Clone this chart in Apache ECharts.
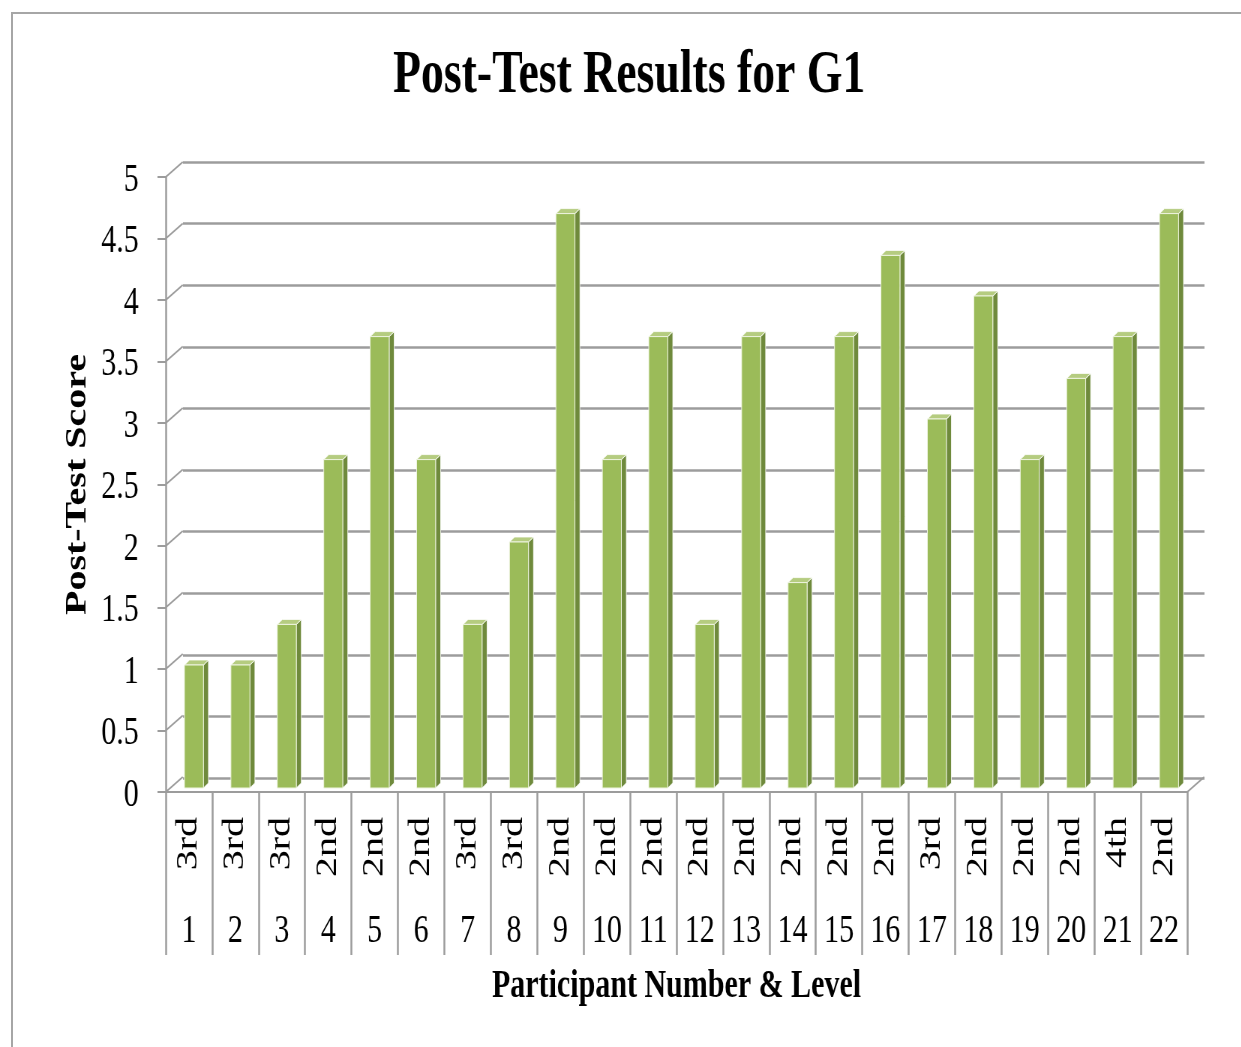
<!DOCTYPE html>
<html><head><meta charset="utf-8">
<script src="https://cdn.jsdelivr.net/npm/echarts@6/dist/echarts.min.js"></script>
<style>
html,body{margin:0;padding:0;background:#fff;overflow:hidden;width:1241px;height:1047px;}
#chart{position:absolute;left:0;top:0;width:1655px;height:1047px;transform:scaleX(0.75);transform-origin:0 0;}
#frame{position:absolute;left:11px;top:12px;width:1240px;height:1045px;border-left:2px solid #a6a6a6;border-top:2px solid #a6a6a6;pointer-events:none;}
</style></head><body>
<div id="chart"></div><div id="frame"></div>
<script>
// ---- data ----
const participants = ['1','2','3','4','5','6','7','8','9','10','11','12','13','14','15','16','17','18','19','20','21','22'];
const levels = ['3rd','3rd','3rd','2nd','2nd','2nd','3rd','3rd','2nd','2nd','2nd','2nd','2nd','2nd','2nd','2nd','3rd','2nd','2nd','2nd','4th','2nd'];
const scores = [1,1,1.33,2.67,3.67,2.67,1.33,2,4.67,2.67,3.67,1.33,3.67,1.67,3.67,4.33,3,4,2.67,3.33,3.67,4.67];
const yTicks = [0,0.5,1,1.5,2,2.5,3,3.5,4,4.5,5];

// ---- style ----
const SX = 0.75;               // horizontal squeeze of the picture
const FONT = 'Liberation Serif';
const GRID = '#9c9c9c';
const DX = 17 / SX, DY = -15;  // depth of the 3D wall
const BOFF_X = 5 / SX, BOFF_Y = -4;
const FW = 19 / SX, SW = 5 / SX, SH = 5;
const FRONT = '#9bbb59', SIDE = '#6f8a3c', TOP = '#b5cc80';

function renderBar(params, api) {
  const i = api.value(0), v = api.value(1);
  const top = api.coord([i, v]), bot = api.coord([i, 0]);
  const cx = top[0] + BOFF_X;
  const L = cx - FW / 2, R = cx + FW / 2;
  const T = top[1] + BOFF_Y, B = bot[1] + BOFF_Y;
  return {type: 'group', children: [
    {type: 'polygon', shape: {points: [[R, T], [R + SW, T - SH], [R + SW, B - SH], [R, B]]},
     style: {fill: SIDE, stroke: '#ffffff', lineWidth: 0.8}},
    {type: 'polygon', shape: {points: [[L, T], [L + SW, T - SH], [R + SW, T - SH], [R, T]]},
     style: {fill: TOP, stroke: '#ffffff', lineWidth: 0.8}},
    {type: 'rect', shape: {x: L, y: T, width: FW, height: B - T},
     style: {fill: FRONT, stroke: '#eef4e0', lineWidth: 1}}
  ]};
}
function renderConn(params, api) {
  const v = api.value(1);
  const p = api.coord([0, v]);
  const x0 = params.coordSys.x;
  return {type: 'line', shape: {x1: x0, y1: p[1], x2: x0 + DX, y2: p[1] + DY},
          style: {stroke: GRID, lineWidth: 2}};
}
function renderFloor(params, api) {
  const p = api.coord([0, 0]);
  const x1 = params.coordSys.x + params.coordSys.width;
  return {type: 'line', shape: {x1: x1, y1: p[1], x2: x1 + DX, y2: p[1] + DY},
          style: {stroke: GRID, lineWidth: 2}};
}

const chart = echarts.init(document.getElementById('chart'));
chart.setOption({
  animation: false,
  backgroundColor: 'transparent',
  title: {
    text: 'Post-Test Results for G1', left: 524, top: 46, padding: 0,
    textStyle: {fontFamily: FONT, fontSize: 61, fontWeight: 'bold', color: '#000'}
  },
  grid: [
    {left: 221, right: 72, top: 177, bottom: 255},
    {left: 244, right: 49, top: 162, bottom: 269}
  ],
  xAxis: [
    {gridIndex: 0, type: 'category', data: participants, position: 'bottom',
     axisLine: {show: true, lineStyle: {color: GRID, width: 2}},
     axisTick: {show: true, interval: 0, length: 163, lineStyle: {color: GRID, width: 2.5}},
     axisLabel: {interval: 0, rotate: 90, margin: 25, fontFamily: FONT, fontSize: 40, color: '#000',
                 formatter: (val, idx) => levels[idx]},
     splitLine: {show: false}},
    {gridIndex: 0, type: 'category', data: participants, position: 'bottom',
     axisLine: {show: false}, axisTick: {show: false},
     axisLabel: {interval: 0, margin: 119, fontFamily: FONT, fontSize: 40, color: '#000'},
     name: 'Participant Number & Level', nameLocation: 'middle', nameGap: 175,
     nameTextStyle: {fontFamily: FONT, fontSize: 40, fontWeight: 'bold', color: '#000'},
     splitLine: {show: false}},
    {gridIndex: 1, type: 'category', data: participants, show: false}
  ],
  yAxis: [
    {gridIndex: 0, type: 'value', min: 0, max: 5, interval: 0.5,
     axisLine: {show: true, lineStyle: {color: GRID, width: 2.5}},
     axisTick: {show: true, length: 11, lineStyle: {color: GRID, width: 2}},
     axisLabel: {margin: 36, fontFamily: FONT, fontSize: 40, color: '#000',
                 formatter: v => '{a|' + v + '}',
                 rich: {a: {fontFamily: FONT, fontSize: 40, color: '#000', padding: [6, 0, 0, 0]}}},
     splitLine: {show: false},
     name: 'Post-Test Score', nameLocation: 'middle', nameGap: 97, nameRotate: 90,
     nameTextStyle: {fontFamily: FONT, fontSize: 40, fontWeight: 'bold', color: '#000'}},
    {gridIndex: 1, type: 'value', min: 0, max: 5, interval: 0.5,
     axisLine: {show: false}, axisTick: {show: false}, axisLabel: {show: false},
     splitLine: {show: true, lineStyle: {color: GRID, width: 2.5}}}
  ],
  series: [
    {type: 'custom', xAxisIndex: 0, yAxisIndex: 0, renderItem: renderConn,
     data: yTicks.map(v => [0, v]), z: 1, silent: true},
    {type: 'custom', xAxisIndex: 0, yAxisIndex: 0, renderItem: renderFloor,
     data: [[0, 0]], z: 1, silent: true},
    {type: 'custom', name: 'Post-Test Score', xAxisIndex: 0, yAxisIndex: 0, renderItem: renderBar,
     data: scores.map((s, i) => [i, s]), z: 3}
  ]
});
</script>
</body></html>
